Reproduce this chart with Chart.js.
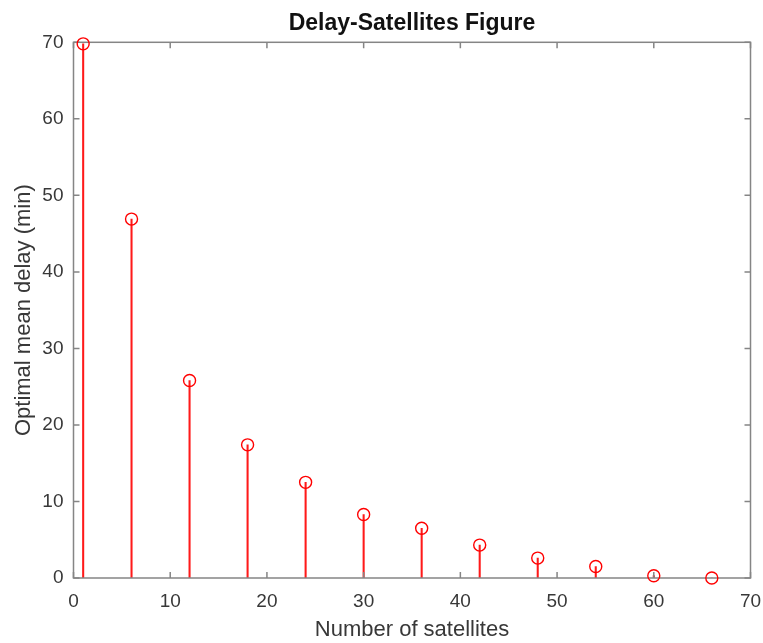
<!DOCTYPE html>
<html>
<head>
<meta charset="utf-8">
<script src="https://cdn.jsdelivr.net/npm/chart.js@4/dist/chart.umd.min.js"></script>
<style>
html,body{margin:0;padding:0;background:#fff;}
#wrap{width:763px;height:643px;position:relative;}
</style>
</head>
<body>
<div id="wrap"><canvas id="c" width="763" height="643"></canvas></div>
<script>
// ---- data ----
const satellites = [1, 6, 12, 18, 24, 30, 36, 42, 48, 54, 60, 66];
const meanDelay = [69.8, 46.9, 25.8, 17.4, 12.5, 8.3, 6.5, 4.3, 2.6, 1.5, 0.3, 0.0];
const xTicks = [0, 10, 20, 30, 40, 50, 60, 70];
const yTicks = [0, 10, 20, 30, 40, 50, 60, 70];
const titleText = 'Delay-Satellites Figure';
const xLabel = 'Number of satellites';
const yLabel = 'Optimal mean delay (min)';

const points = satellites.map((s, i) => ({x: s, y: meanDelay[i]}));
const FONT = '"Liberation Sans", Arial, Helvetica, sans-serif';
const AXIS_COLOR = '#858585';
const TEXT_COLOR = '#383838';

const boxPlugin = {
  id: 'matlabBox',
  afterDatasetDraw(chart, args) {
    if (args.index !== 1) return;
    const {ctx, chartArea: {left, right, top, bottom}, scales: {x, y}} = chart;
    ctx.save();
    ctx.strokeStyle = AXIS_COLOR;
    ctx.lineWidth = 1.5;
    ctx.beginPath();
    const tl = 6;
    x.ticks.forEach(t => {
      const px = x.getPixelForValue(t.value);
      ctx.moveTo(px, bottom); ctx.lineTo(px, bottom - tl);
      ctx.moveTo(px, top); ctx.lineTo(px, top + tl);
    });
    y.ticks.forEach(t => {
      const py = y.getPixelForValue(t.value);
      ctx.moveTo(left, py); ctx.lineTo(left + tl, py);
      ctx.moveTo(right, py); ctx.lineTo(right - tl, py);
    });
    ctx.stroke();
    ctx.strokeRect(left, top, right - left, bottom - top);
    ctx.restore();
  }
};

new Chart(document.getElementById('c'), {
  type: 'scatter',
  data: {
    datasets: [
      {
        type: 'scatter',
        data: points,
        pointStyle: 'circle',
        pointRadius: 6,
        pointBorderWidth: 1.4,
        borderColor: '#ff0000',
        backgroundColor: 'rgba(0,0,0,0)',
        pointBackgroundColor: 'rgba(0,0,0,0)',
        clip: false
      },
      {
        type: 'bar',
        data: points,
        backgroundColor: '#ff1a1a',
        borderWidth: 0,
        barThickness: 1.4,
        grouped: false
      }
    ]
  },
  plugins: [boxPlugin],
  options: {
    responsive: false,
    animation: false,
    events: [],
    layout: {padding: {left: 0, right: 12.5, top: 0, bottom: 0}},
    plugins: {
      legend: {display: false},
      tooltip: {enabled: false},
      title: {
        display: true,
        text: titleText,
        fullSize: false,
        color: '#111',
        font: {family: FONT, size: 23, weight: 'bold', lineHeight: 1.2},
        padding: {top: 10.2, bottom: 4.5}
      }
    },
    scales: {
      x: {
        type: 'linear',
        min: 0, max: 70,
        offset: false,
        afterBuildTicks: s => { s.ticks = xTicks.map(v => ({value: v})); },
        afterFit: s => { s.height = 65; s.paddingLeft = 0; s.paddingRight = 0; },
        grid: {display: false, drawTicks: false, tickLength: 0},
        border: {display: false},
        ticks: {
          color: TEXT_COLOR, padding: 12, maxRotation: 0,
          font: {family: FONT, size: 19, lineHeight: 1.2}
        },
        title: {
          display: true, text: xLabel, color: TEXT_COLOR,
          font: {family: FONT, size: 22, lineHeight: 1.2},
          padding: {top: 0, bottom: 0}
        }
      },
      y: {
        type: 'linear',
        min: 0, max: 70,
        afterBuildTicks: s => { s.ticks = yTicks.map(v => ({value: v})); },
        afterFit: s => { s.width = 73.5; s.paddingTop = 0; s.paddingBottom = 0; },
        grid: {display: false, drawTicks: false, tickLength: 0},
        border: {display: false},
        ticks: {
          color: TEXT_COLOR, padding: 10,
          font: {family: FONT, size: 19, lineHeight: 1.2}
        },
        title: {
          display: true, text: yLabel, color: TEXT_COLOR,
          font: {family: FONT, size: 22, lineHeight: 1.2},
          padding: {top: 10.8, bottom: 0}
        }
      }
    }
  }
});
</script>
</body>
</html>
